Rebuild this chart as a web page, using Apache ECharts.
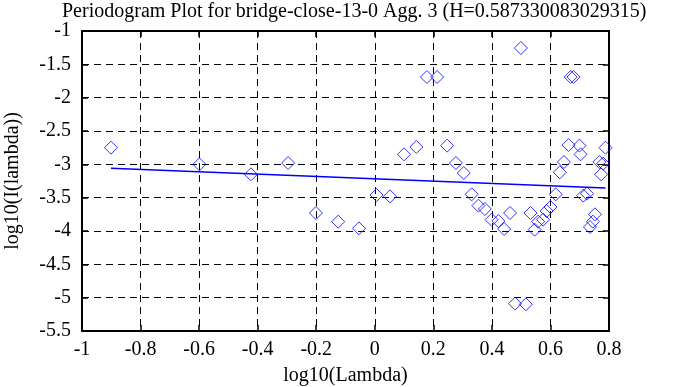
<!DOCTYPE html>
<html>
<head>
<meta charset="utf-8">
<script src="https://cdn.jsdelivr.net/npm/echarts@6/dist/echarts.min.js"></script>
<style>html,body{margin:0;padding:0;background:#fff}#c{width:688px;height:387px}</style>
</head>
<body>
<div id="c"></div>
<script>
var titleText = 'Periodogram Plot for bridge-close-13-0 Agg. 3 (H=0.587330083029315)';
var xName = 'log10(Lambda)';
var yName = 'log10(I(lambda))';

var pointX = [-0.901,-0.599,-0.423,-0.296,-0.201,-0.125,-0.054,0.006,0.052,0.100,
  0.142,0.178,0.213,0.247,0.277,0.304,0.331,0.354,0.376,0.399,
  0.422,0.442,0.462,0.479,0.499,0.516,0.532,0.546,0.558,0.575,
  0.587,0.600,0.618,0.632,0.646,0.662,0.669,0.679,0.699,0.703,
  0.712,0.725,0.735,0.745,0.752,0.767,0.773,0.780,0.788];
var pointY = [-2.75,-3.00,-3.15,-2.98,-3.73,-3.86,-3.96,-3.46,-3.48,-2.85,
  -2.74,-1.69,-1.69,-2.72,-2.98,-3.13,-3.45,-3.62,-3.67,-3.83,
  -3.85,-3.97,-3.73,-5.09,-1.255,-5.10,-3.73,-3.98,-3.86,-3.83,
  -3.70,-3.64,-3.45,-3.12,-2.965,-2.71,-1.69,-1.69,-2.72,-2.85,
  -3.47,-3.44,-3.94,-3.86,-3.75,-2.965,-3.15,-2.99,-2.75];

var fitX = [-0.901, 0.788];
var fitY = [-3.06, -3.355];

var xMin = -1, xMax = 0.8, xStep = 0.2;
var yMin = -5.5, yMax = -1, yStep = 0.5;

var pts = pointX.map(function (x, i) { return [x, pointY[i]]; });
var fit = fitX.map(function (x, i) { return [x, fitY[i]]; });

var font = 'Liberation Serif';
function fmt(v) { return String(Math.round(v * 10) / 10); }

var chart = echarts.init(document.getElementById('c'), null, {renderer: 'canvas'});
var axisLine = {show: true, onZero: false, lineStyle: {color: '#000', width: 2}};
var tick = {show: true, inside: true, length: 6, lineStyle: {color: '#000', width: 1.5}};
var split = {show: true, lineStyle: {color: '#000', width: 1, type: [7, 5]}};
chart.setOption({
  animation: false,
  backgroundColor: '#fff',
  title: {
    text: titleText, left: 57, top: -3,
    textStyle: {fontFamily: font, fontSize: 20, fontWeight: 'normal', color: '#000'}
  },
  grid: {left: 82, right: 79, top: 31, bottom: 56, containLabel: false, outerBoundsMode: 'none'},
  xAxis: [{
    type: 'value', position: 'bottom', min: xMin, max: xMax, interval: xStep,
    name: xName, nameLocation: 'middle', nameGap: 35,
    nameTextStyle: {fontFamily: font, fontSize: 20, color: '#000'},
    axisLine: axisLine, axisTick: tick, splitLine: split,
    axisLabel: {fontFamily: font, fontSize: 20, color: '#000', margin: 9, formatter: fmt}
  }, {
    type: 'value', position: 'top', min: xMin, max: xMax, interval: xStep,
    axisLine: axisLine, axisTick: tick, splitLine: {show: false}, axisLabel: {show: false}
  }],
  yAxis: [{
    type: 'value', position: 'left', min: yMin, max: yMax, interval: yStep,
    name: yName, nameLocation: 'middle', nameGap: 59,
    nameTextStyle: {fontFamily: font, fontSize: 20, color: '#000'},
    axisLine: axisLine, axisTick: tick, splitLine: split,
    axisLabel: {fontFamily: font, fontSize: 20, color: '#000', margin: 11, formatter: fmt}
  }, {
    type: 'value', position: 'right', min: yMin, max: yMax, interval: yStep,
    axisLine: axisLine, axisTick: tick, splitLine: {show: false}, axisLabel: {show: false}
  }],
  series: [{
    type: 'scatter', data: pts, symbol: 'diamond', symbolSize: 13,
    itemStyle: {color: 'rgba(0,0,0,0)', borderColor: '#0000ff', borderWidth: 1}
  }, {
    type: 'line', data: fit, showSymbol: false, symbol: 'none',
    lineStyle: {color: '#0000ff', width: 1.5}
  }]
});
</script>
</body>
</html>
